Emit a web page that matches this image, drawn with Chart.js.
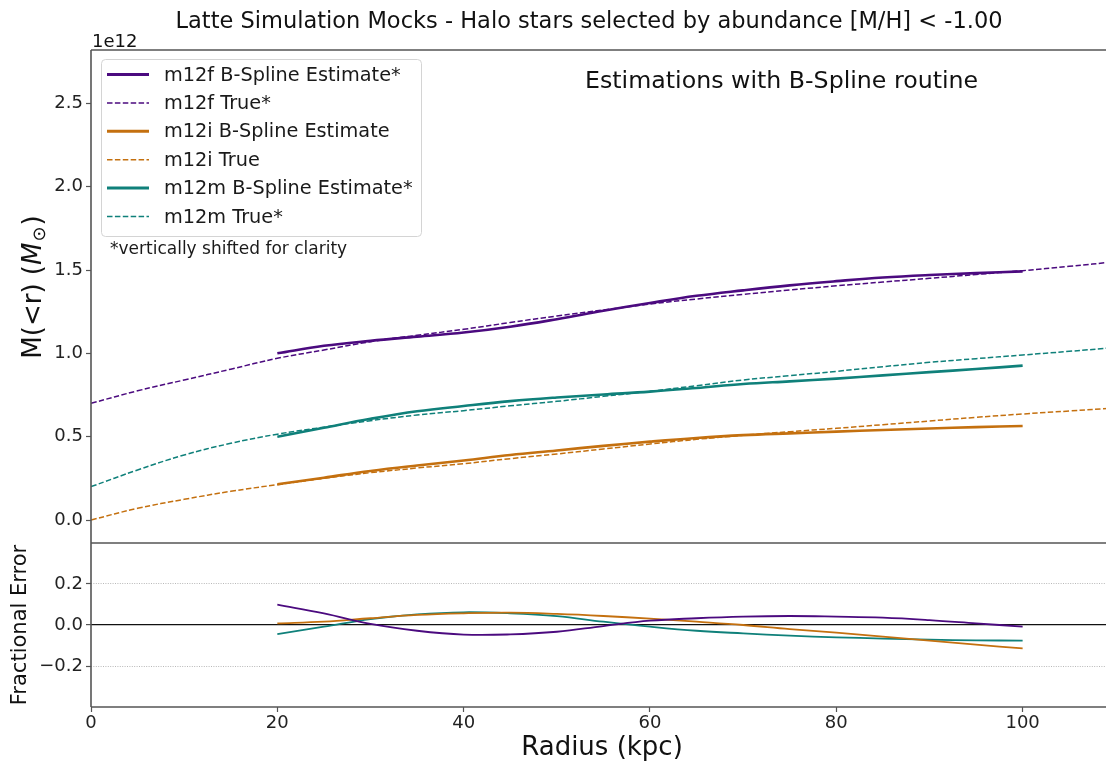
<!DOCTYPE html>
<html>
<head>
<meta charset="utf-8">
<script src="https://cdn.jsdelivr.net/npm/chart.js@4.4.1/dist/chart.umd.min.js"></script>
<style>
html, body { margin: 0; padding: 0; background: #fff; overflow: hidden; }
#wrap { position: relative; width: 1106px; height: 764px; overflow: hidden; background: #fff; }
canvas { position: absolute; left: 0; }
#grafico-massa { top: 0; }
#grafico-erro { top: 543px; }
</style>
</head>
<body>
<div id="wrap">
  <canvas id="grafico-massa" width="1120" height="546"></canvas>
  <canvas id="grafico-erro" width="1120" height="221"></canvas>
</div>
<script>
// DADOS (massa em 1e12 Msun, raio em kpc)
var radiusTrue = [0, 5, 10, 15, 20, 25, 30, 35, 40, 45, 50, 55, 60, 65, 70, 75, 80, 85, 90, 95, 100, 105, 110];
var radiusFit = [20, 25, 30, 35, 40, 45, 50, 55, 60, 65, 70, 75, 80, 85, 90, 95, 100];

var m12fTrue = [0.700, 0.775, 0.840, 0.905, 0.970, 1.020, 1.070, 1.108, 1.144, 1.185, 1.224, 1.260, 1.296, 1.326, 1.354, 1.380, 1.405, 1.428, 1.450, 1.473, 1.496, 1.522, 1.550];
var m12fFit = [1.000, 1.045, 1.075, 1.100, 1.125, 1.160, 1.205, 1.255, 1.302, 1.345, 1.378, 1.408, 1.433, 1.455, 1.470, 1.481, 1.492];
var m12iTrue = [0.000, 0.070, 0.124, 0.172, 0.212, 0.250, 0.284, 0.312, 0.338, 0.368, 0.396, 0.426, 0.456, 0.484, 0.508, 0.530, 0.550, 0.572, 0.594, 0.616, 0.636, 0.654, 0.672];
var m12iFit = [0.214, 0.254, 0.294, 0.327, 0.357, 0.390, 0.417, 0.445, 0.470, 0.492, 0.509, 0.520, 0.530, 0.540, 0.549, 0.557, 0.564];
var m12mTrue = [0.200, 0.300, 0.390, 0.460, 0.515, 0.557, 0.596, 0.630, 0.656, 0.685, 0.712, 0.742, 0.772, 0.806, 0.840, 0.866, 0.892, 0.920, 0.946, 0.968, 0.990, 1.012, 1.035];
var m12mFit = [0.500, 0.554, 0.607, 0.652, 0.684, 0.713, 0.735, 0.753, 0.770, 0.792, 0.816, 0.832, 0.848, 0.868, 0.887, 0.906, 0.926];

var fracF = [0.099, 0.057, 0.005, -0.028, -0.047, -0.046, -0.033, -0.005, 0.021, 0.033, 0.041, 0.044, 0.041, 0.036, 0.024, 0.008, -0.008];
var fracI = [0.008, 0.016, 0.033, 0.049, 0.057, 0.060, 0.054, 0.044, 0.031, 0.016, 0.000, -0.020, -0.037, -0.057, -0.076, -0.096, -0.114];
var fracM = [-0.044, -0.008, 0.029, 0.052, 0.062, 0.057, 0.043, 0.016, -0.008, -0.028, -0.041, -0.052, -0.060, -0.066, -0.071, -0.075, -0.076];

var massTicks = [0, 0.5, 1.0, 1.5, 2.0, 2.5];
var fracTicks = [-0.2, 0, 0.2];
var radiusTicks = [0, 20, 40, 60, 80, 100];

var xMax = 109.7;
var fontFamily = "'DejaVu Sans', sans-serif";
var purple = '#4b0a7f';
var orange = '#c4700f';
var teal = '#0f807a';
var axisColor = '#555';

function toPoints(xs, ys) {
    return xs.map(function (x, i) { return { x: x, y: ys[i] }; });
}

function lineSet(label, xs, ys, color, dashed, width) {
    return {
        label: label,
        data: toPoints(xs, ys),
        borderColor: color,
        borderWidth: width,
        borderDash: dashed ? [5.5, 2.4] : [],
        pointRadius: 0,
        tension: 0.4,
        fill: false
    };
}

function fixTicks(values) {
    return function (axis) {
        axis.ticks = values.map(function (v) { return { value: v }; });
    };
}

// tira o espaco extra que o Chart.js reserva para os rotulos das pontas
function noEdgePadding(axis) {
    axis.paddingTop = 0;
    axis.paddingBottom = 0;
    axis.paddingLeft = 0;
    axis.paddingRight = 0;
}

function fmtTick(v) {
    if (Math.abs(v) < 1e-9) return '0.0';
    return (v < 0 ? '\u2212' : '') + Math.abs(v).toFixed(1);
}

// moldura (sem o lado direito, que fica fora da imagem)
function framePlugin(sides) {
    return {
        id: 'moldura',
        afterDraw: function (chart) {
            var c = chart.ctx, a = chart.chartArea;
            c.save();
            c.strokeStyle = axisColor;
            c.lineWidth = 1.6;
            c.beginPath();
            c.moveTo(a.left, a.bottom);
            c.lineTo(a.left, a.top);
            if (sides.top) { c.moveTo(a.left, a.top); c.lineTo(a.right + 2, a.top); }
            if (sides.bottom) { c.moveTo(a.left, a.bottom); c.lineTo(a.right + 2, a.bottom); }
            c.stroke();
            c.restore();
        }
    };
}

var textosMassa = {
    id: 'textosMassa',
    afterDraw: function (chart) {
        var c = chart.ctx;
        c.save();
        c.fillStyle = '#111';
        c.textBaseline = 'alphabetic';

        c.textAlign = 'center';
        c.font = '22.5px ' + fontFamily;
        c.fillText('Latte Simulation Mocks - Halo stars selected by abundance [M/H] < -1.00', 589, 28);

        c.textAlign = 'left';
        c.font = '18px ' + fontFamily;
        c.fillText('1e12', 92, 47);

        c.font = '23.7px ' + fontFamily;
        c.fillText('Estimations with B-Spline routine', 585, 88);

        // legenda
        c.beginPath();
        c.roundRect(101.5, 59.5, 320, 177, 4);
        c.fillStyle = 'rgba(255,255,255,0.8)';
        c.fill();
        c.strokeStyle = '#d4d4d4';
        c.lineWidth = 1;
        c.stroke();
        c.font = '19.3px ' + fontFamily;
        c.textBaseline = 'middle';
        chart.data.datasets.forEach(function (ds, i) {
            var y = 74.5 + i * 28.4;
            c.beginPath();
            c.setLineDash(ds.borderDash);
            c.strokeStyle = ds.borderColor;
            c.lineWidth = ds.borderDash.length ? 1.5 : 3;
            c.moveTo(107, y);
            c.lineTo(149, y);
            c.stroke();
            c.setLineDash([]);
            c.fillStyle = '#1a1a1a';
            c.fillText(ds.label, 164, y + 1);
        });

        c.font = '17px ' + fontFamily;
        c.fillText('*vertically shifted for clarity', 110, 250);

        // titulo do eixo y: M(<r) (M_sun)
        c.translate(34, 288);
        c.rotate(-Math.PI / 2);
        var big = '26px ' + fontFamily;
        var ital = 'italic 26px ' + fontFamily;
        var small = '18px ' + fontFamily;
        c.font = big; var w1 = c.measureText('M(<r) (').width; var w4 = c.measureText(')').width;
        c.font = ital; var w2 = c.measureText('M').width;
        c.font = small; var w3 = c.measureText('\u2299').width;
        var x0 = -(w1 + w2 + w3 + w4) / 2;
        c.textAlign = 'left';
        c.textBaseline = 'middle';
        c.fillStyle = '#111';
        c.font = big; c.fillText('M(<r) (', x0, 0);
        c.font = ital; c.fillText('M', x0 + w1, 0);
        c.font = small; c.fillText('\u2299', x0 + w1 + w2 + 1, 6);
        c.font = big; c.fillText(')', x0 + w1 + w2 + w3 + 2, 0);
        c.restore();
    }
};

var textosErro = {
    id: 'textosErro',
    afterDraw: function (chart) {
        var c = chart.ctx;
        c.save();
        c.translate(21, 82);
        c.rotate(-Math.PI / 2);
        c.fillStyle = '#111';
        c.textAlign = 'center';
        c.textBaseline = 'middle';
        c.font = '21px ' + fontFamily;
        c.fillText('Fractional Error', 0, 0);
        c.restore();
    }
};

// GRAFICO MASSA
var graficoMassa = new Chart(document.getElementById('grafico-massa').getContext('2d'), {
    type: 'line',
    data: {
        datasets: [
            lineSet('m12f B-Spline Estimate*', radiusFit, m12fFit, purple, false, 2.6),
            lineSet('m12f True*', radiusTrue, m12fTrue, purple, true, 1.5),
            lineSet('m12i B-Spline Estimate', radiusFit, m12iFit, orange, false, 2.6),
            lineSet('m12i True', radiusTrue, m12iTrue, orange, true, 1.5),
            lineSet('m12m B-Spline Estimate*', radiusFit, m12mFit, teal, false, 2.6),
            lineSet('m12m True*', radiusTrue, m12mTrue, teal, true, 1.5)
        ]
    },
    options: {
        responsive: false,
        animation: false,
        devicePixelRatio: 1,
        layout: { padding: { top: 50, right: 7, bottom: 3, left: 0 } },
        plugins: { legend: { display: false }, tooltip: { enabled: false } },
        scales: {
            x: { type: 'linear', min: 0, max: xMax, display: false },
            y: {
                min: -0.138,
                max: 2.82,
                afterFit: function (axis) { axis.width = 91; noEdgePadding(axis); },
                afterBuildTicks: fixTicks(massTicks),
                ticks: { font: { size: 18, family: fontFamily }, color: '#222', padding: 3, callback: fmtTick },
                grid: { drawOnChartArea: false, drawTicks: true, tickLength: 5, tickColor: axisColor, tickWidth: 1.2 },
                border: { display: false }
            }
        }
    },
    plugins: [framePlugin({ top: true, bottom: true }), textosMassa]
});

// GRAFICO ERRO FRACIONAL
var graficoErro = new Chart(document.getElementById('grafico-erro').getContext('2d'), {
    type: 'line',
    data: {
        datasets: [
            lineSet('m12f', radiusFit, fracF, purple, false, 1.8),
            lineSet('m12i', radiusFit, fracI, orange, false, 1.8),
            lineSet('m12m', radiusFit, fracM, teal, false, 1.8)
        ]
    },
    options: {
        responsive: false,
        animation: false,
        devicePixelRatio: 1,
        layout: { padding: { top: 0, right: 7, bottom: 0, left: 0 } },
        plugins: { legend: { display: false }, tooltip: { enabled: false } },
        scales: {
            x: {
                type: 'linear',
                min: 0,
                max: xMax,
                afterFit: function (axis) { axis.height = 57; noEdgePadding(axis); },
                afterBuildTicks: fixTicks(radiusTicks),
                ticks: { font: { size: 18, family: fontFamily }, color: '#222', padding: 1, maxRotation: 0, callback: function (v) { return String(v); } },
                grid: { drawOnChartArea: false, drawTicks: true, tickLength: 5, tickColor: axisColor, tickWidth: 1.2 },
                border: { display: false },
                title: { display: true, text: 'Radius (kpc)', color: '#111', font: { size: 26, family: fontFamily }, padding: { top: 0, bottom: 0 } }
            },
            y: {
                min: -0.4,
                max: 0.4,
                afterFit: function (axis) { axis.width = 91; noEdgePadding(axis); },
                afterBuildTicks: fixTicks(fracTicks),
                ticks: { font: { size: 18, family: fontFamily }, color: '#222', padding: 3, callback: fmtTick },
                grid: {
                    drawOnChartArea: true,
                    drawTicks: true,
                    tickLength: 5,
                    tickColor: axisColor,
                    tickWidth: 1.2,
                    color: function (ctx) { return ctx.tick && ctx.tick.value === 0 ? '#111' : '#b8b8b8'; },
                    lineWidth: function (ctx) { return ctx.tick && ctx.tick.value === 0 ? 1.2 : 1; }
                },
                border: {
                    display: false,
                    dash: function (ctx) { return ctx.tick && ctx.tick.value === 0 ? [] : [1, 1.4]; }
                }
            }
        }
    },
    plugins: [framePlugin({ top: false, bottom: true }), textosErro]
});
</script>
</body>
</html>
